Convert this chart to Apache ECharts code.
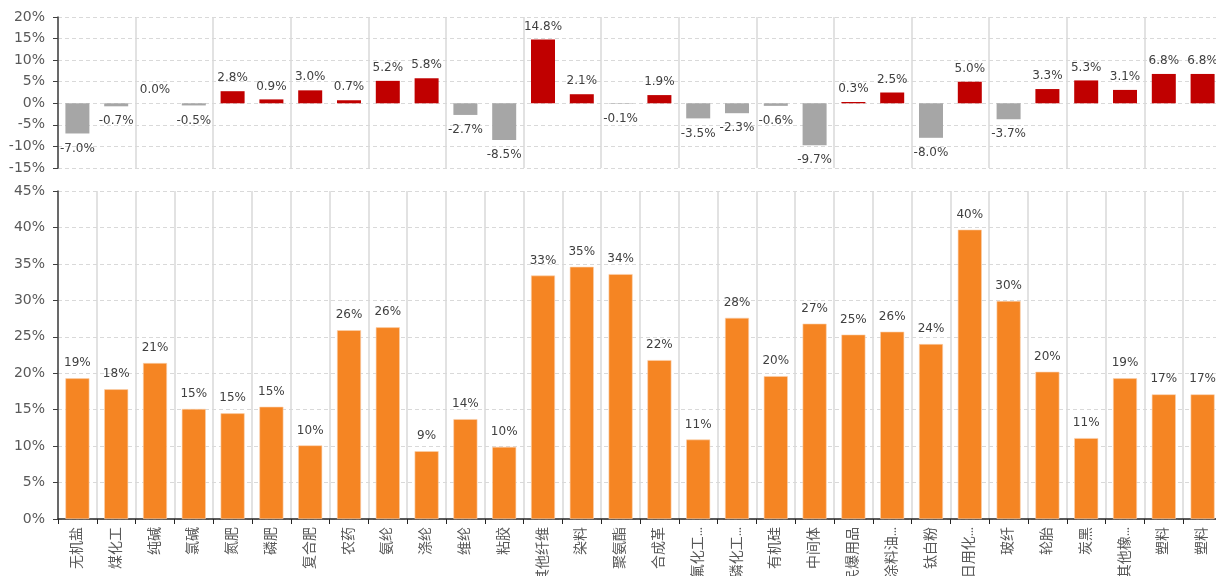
<!DOCTYPE html>
<html>
<head>
<meta charset="utf-8">
<script src="https://cdn.jsdelivr.net/npm/echarts@6/dist/echarts.min.js"></script>
<style>html,body{margin:0;padding:0;background:#fff;}#c{width:1216px;height:576px;}</style>
</head>
<body>
<div id="c"></div>
<script>
const categories = ['无机盐','煤化工','纯碱','氯碱','氮肥','磷肥','复合肥','农药','氨纶','涤纶','维纶','粘胶','其他纤维','染料','聚氨酯','合成革','氟化工…','磷化工…','有机硅','中间体','民爆用品','涂料油…','钛白粉','日用化…','玻纤','轮胎','炭黑','其他橡…','塑料','塑料'];
const changeValues = [-7.0,-0.7,0.0,-0.5,2.8,0.9,3.0,0.7,5.2,5.8,-2.7,-8.5,14.8,2.1,-0.1,1.9,-3.5,-2.3,-0.6,-9.7,0.3,2.5,-8.0,5.0,-3.7,3.3,5.3,3.1,6.8,6.8];
const levelValues = [19.3,17.8,21.4,15.1,14.5,15.4,10.1,25.9,26.3,9.3,13.7,9.9,33.4,34.6,33.6,21.8,10.9,27.6,19.6,26.8,25.3,25.7,24.0,39.7,29.9,20.2,11.1,19.3,17.1,17.1];
const topTicks = {min:-15, max:20, interval:5};
const bottomTicks = {min:0, max:45, interval:5};

const numFont = 'DejaVu Sans';
const cjkFont = 'Roboto, "Noto Sans CJK SC"';
const chart = echarts.init(document.getElementById('c'), null, {renderer:'canvas'});
const gridLine = '#D9D9D9';
const yAxisCommon = {
  type:'value',
  axisLine:{show:true, lineStyle:{color:'#404040', width:1.5}},
  axisTick:{show:true, length:5, lineStyle:{color:'#404040'}},
  axisLabel:{color:'#595959', fontSize:14, fontFamily:numFont, margin:13, formatter:v=>v+'%'},
  splitLine:{show:true, lineStyle:{color:gridLine, type:[4,3], width:1}}
};
chart.setOption({
  animation:false,
  grid:[
    {left:58, top:17, width:1164, height:151, containLabel:false, outerBoundsMode:'none'},
    {left:58, top:191, width:1164, height:328, containLabel:false, outerBoundsMode:'none'}
  ],
  xAxis:[
    {type:'category', gridIndex:0, data:categories,
     axisLine:{show:false}, axisTick:{show:false}, axisLabel:{show:false},
     splitLine:{show:true, lineStyle:{color:gridLine, width:1.5}}},
    {type:'category', gridIndex:1, data:categories,
     axisLine:{show:true, lineStyle:{color:'#262626', width:1.5}},
     axisTick:{show:true, length:5, lineStyle:{color:'#262626'}},
     axisLabel:{rotate:90, color:'#595959', fontSize:14, fontFamily:cjkFont, margin:8, interval:0},
     splitLine:{show:true, lineStyle:{color:gridLine, width:1.5}}}
  ],
  yAxis:[
    Object.assign({}, yAxisCommon, {gridIndex:0, min:topTicks.min, max:topTicks.max, interval:topTicks.interval}),
    Object.assign({}, yAxisCommon, {gridIndex:1, min:bottomTicks.min, max:bottomTicks.max, interval:bottomTicks.interval})
  ],
  series:[
    {type:'bar', xAxisIndex:0, yAxisIndex:0, barWidth:24,
     data:changeValues.map(v=>({
       value:v,
       itemStyle:{color: v>0 ? '#C00000' : '#A6A6A6'},
       label:{position: v<0 ? 'bottom' : 'top', distance: v<0 ? 9 : 7}
     })),
     label:{show:true, color:'#404040', fontSize:12, fontFamily:numFont,
            formatter:p=>p.value.toFixed(1)+'%'}},
    {type:'bar', xAxisIndex:1, yAxisIndex:1, barWidth:24,
     data:levelValues,
     itemStyle:{color:'#F58523', borderColor:'#FAD2B0', borderWidth:0.6},
     label:{show:true, position:'top', color:'#404040', fontSize:12, fontFamily:numFont, distance:9,
            formatter:p=>Math.round(p.value)+'%'}}
  ]
});
</script>
</body>
</html>
